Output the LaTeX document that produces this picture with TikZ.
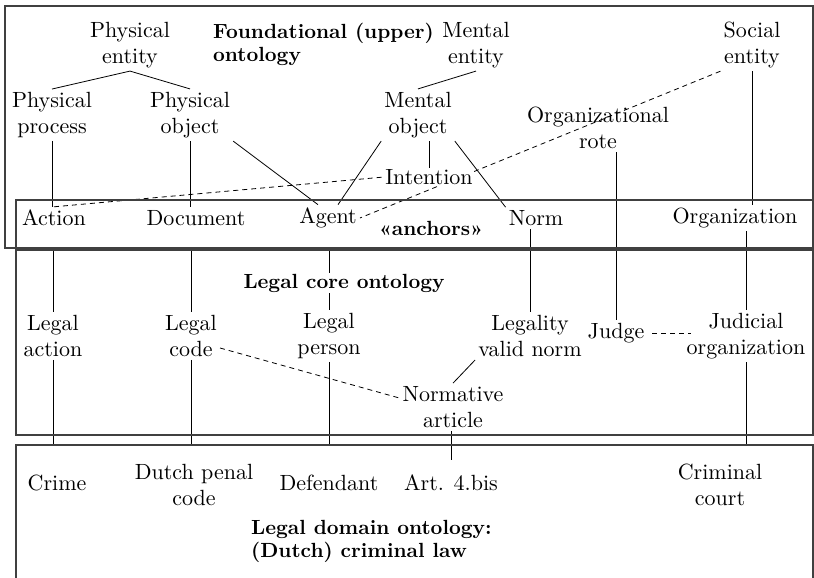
\documentclass[tikz,border=0pt]{standalone}
\usepackage{fontspec}
\setmainfont{lmroman10-regular.otf}[BoldFont=lmroman10-bold.otf]
\usetikzlibrary{backgrounds}

\tikzset{
  lbl/.style={align=center, inner sep=3pt, font=\fontsize{22}{26}\selectfont},
  head/.style={align=left, inner sep=1pt, font=\fontsize{20.5}{23}\selectfont\bfseries},
  layer/.style={draw=black!75, line width=1.3pt},
  link/.style={line width=0.8pt},
  weak/.style={line width=0.8pt, dash pattern=on 5pt off 4pt},
}

\begin{document}
\begin{tikzpicture}[x=1pt,y=-1pt]
   \useasboundingbox (0,0) rectangle (814,578);
   % the four layers
   \draw[layer] (5,6) rectangle (813,248);
   \draw[layer] (16,200) rectangle (813,248);
   \draw[layer] (16,250) rectangle (813,435);
   \draw[layer] (16,600) -- (16,445) -- (813,445) -- (813,600);
   \coordinate (coretop) at (16,250);
   \coordinate (domtop) at (16,445);
   % headings
   \node[head, anchor=north west] (fhead) at (212,22) {Foundational (upper)\\ontology};
   \node[head] (ahead) at (431,228) {«anchors»};
   \node[head, fill=white] (chead) at (344,283) {Legal core ontology};
   \node[head, anchor=north west] (dhead) at (250,519) {Legal domain ontology:\\(Dutch) criminal law};
   % foundational ontology
   \node[lbl] (pent) at (130,45) {Physical\\entity};
   \node[lbl] (pproc) at (52,115) {Physical\\process};
   \node[lbl] (pobj) at (190,115) {Physical\\object};
   \node[lbl] (ment) at (476,45) {Mental\\entity};
   \node[lbl] (mobj) at (418,115) {Mental\\object};
   \node[lbl, fill=white, inner sep=1pt] (inten) at (429,177) {Intention};
   \node[lbl] (sent) at (752,45) {Social\\entity};
   \node[lbl] (orgrote) at (598,128) {Organizational\\rote};
   % anchors
   \node[lbl] (action) at (54,218) {Action};
   \node[lbl] (doc) at (196,218) {Document};
   \node[lbl] (agent) at (328,218) {Agent};
   \node[lbl] (norm) at (536,218) {Norm};
   \node[lbl] (org) at (735,218) {Organization};
   % legal core ontology
   \node[lbl] (lact) at (53,336) {Legal\\action};
   \node[lbl] (lcode) at (191,336) {Legal\\code};
   \node[lbl] (lpers) at (329,336) {Legal\\person};
   \node[lbl] (lvnorm) at (530,336) {Legality\\valid norm};
   \node[lbl] (judge) at (616,333) {Judge};
   \node[lbl] (judorg) at (746,336) {Judicial\\organization};
   \node[lbl] (nart) at (453,407) {Normative\\article};
   % legal domain ontology
   \node[lbl] (crime) at (57,483) {Crime};
   \node[lbl] (penal) at (194,485) {Dutch penal\\code};
   \node[lbl] (defend) at (329,483) {Defendant};
   \node[lbl] (art) at (451,483) {Art. 4.bis};
   \node[lbl] (court) at (720,485) {Criminal\\court};

   \begin{scope}[on background layer]
   \draw[link] (pproc.north) -- (pent.south) -- (pobj.north);
   \draw[link] (pproc.south) -- (pproc.south |- action.north);
   \draw[link] (pobj.south) -- (pobj.south |- action.north);
   \draw[link] (pobj.south east) -- ([xshift=-10pt]agent.north);
   \draw[link] (mobj.south west) -- ([xshift=10pt]agent.north);
   \draw[link] (ment.south) -- (mobj.north);
   \draw[link] (inten.north |- mobj.south) -- (inten.north);
   \draw[link] (mobj.south east) -- (norm.north west);
   \draw[link] (sent.south) -- (sent.south |- org.north);
   \draw[weak] (action.north) -- (inten.west);
   \draw[weak] (sent.south west) -- (agent.east);
   \draw[link] (judge.north |- orgrote.south) -- (judge.north);
   \draw[link] (lvnorm.north |- norm.south) -- (lvnorm.north);
   \draw[link] (judorg.north |- org.south) -- (judorg.north);
   \draw[link] (lact.north |- coretop) -- (lact.north);
   \draw[link] (lcode.north |- coretop) -- (lcode.north);
   \draw[link] (lpers.north |- coretop) -- (lpers.north);
   \draw[link] (lact.south) -- (lact.south |- domtop);
   \draw[link] (lcode.south) -- (lcode.south |- domtop);
   \draw[link] (lpers.south) -- (lpers.south |- domtop);
   \draw[link] (judorg.south) -- (judorg.south |- domtop);
   \draw[link] (lvnorm.south west) -- (nart.north);
   \draw[link] (art.north |- nart.south) -- ([yshift=12pt]art.north);
   \draw[weak] ([yshift=-12pt]lcode.east) -- ([yshift=9pt]nart.west);
   \draw[weak, shorten <=5pt] (judge.east) -- ([xshift=8pt]judge.east -| judorg.west);
   \end{scope}
  \end{tikzpicture}
\end{document}
